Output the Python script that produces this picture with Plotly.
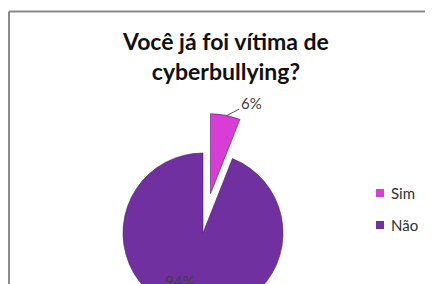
import plotly.graph_objects as go

labels = ["Sim", "Não"]
values = [6, 94]
colors = ["#D83DD6", "#7030A0"]
pulls = [0.5, 0]
title_lines = ["Você já foi vítima de", "cyberbullying?"]

# The page has an 8px body margin; the figure is taller than the window so its
# lower part (bottom of the pie) is cut off, as in the reference.
W, H = 433, 360
OFF = 8  # body margin


def px(sx):
    return (sx - OFF) / W


def py(sy):
    return 1 - (sy - OFF) / H


cx, cy, R = 203, 233, 80  # screen pixels of the pie
half = R * 1.5

total = sum(values)
pct = [f"{round(100 * v / total)}%" for v in values]

fig = go.Figure(go.Pie(
    labels=labels,
    values=values,
    sort=False,
    direction="clockwise",
    rotation=0,
    pull=pulls,
    marker=dict(colors=colors, line=dict(color="#4a2070", width=0.6)),
    textinfo="none",
    domain=dict(x=[px(cx - half), px(cx + half)], y=[py(cy + half), py(cy - half)]),
    hoverinfo="label+percent",
    showlegend=False,
))

annotations = [
    dict(xref="paper", yref="paper", x=px(225), y=py(56),
         text="<b>" + title_lines[0] + "<br>" + title_lines[1] + "</b>",
         showarrow=False, xanchor="center", yanchor="middle",
         font=dict(family="Lato", size=23, color="#111111")),
    # percentage labels
    dict(xref="paper", yref="paper", x=px(226), y=py(116), text=pct[0],
         showarrow=True, arrowhead=0, arrowwidth=1, arrowcolor="#595959", standoff=0,
         ax=25, ay=-13, xanchor="center", yanchor="middle",
         font=dict(family="Lato", size=15, color="#404040")),
    dict(xref="paper", yref="paper", x=px(179), y=py(281), text=pct[1],
         showarrow=False, xanchor="center", yanchor="middle",
         font=dict(family="Lato", size=15, color="#404040")),
]

# chart frame (top and left edges visible; others fall outside the window)
shapes = [
    dict(type="line", xref="paper", yref="paper", x0=px(9), x1=1, y0=py(11.5), y1=py(11.5),
         line=dict(color="#8a8a8a", width=2)),
    dict(type="line", xref="paper", yref="paper", x0=px(9), x1=px(9), y0=0, y1=py(11.5),
         line=dict(color="#8a8a8a", width=2)),
]

legend_y = [193, 225]
for lab, col, ly in zip(labels, colors, legend_y):
    shapes.append(dict(type="rect", xref="paper", yref="paper",
                       x0=px(376), x1=px(384), y0=py(ly + 4), y1=py(ly - 4),
                       fillcolor=col, line=dict(width=0)))
    annotations.append(dict(xref="paper", yref="paper", x=px(389), y=py(ly), text=lab,
                            showarrow=False, xanchor="left", yanchor="middle",
                            font=dict(family="Lato", size=15, color="#303030")))

fig.update_layout(
    width=W, height=H,
    margin=dict(l=0, r=0, t=0, b=0),
    paper_bgcolor="white",
    plot_bgcolor="white",
    font=dict(family="Lato", color="#404040"),
    showlegend=False,
    annotations=annotations,
    shapes=shapes,
)

fig.write_html("out.html", config={"displayModeBar": False})
